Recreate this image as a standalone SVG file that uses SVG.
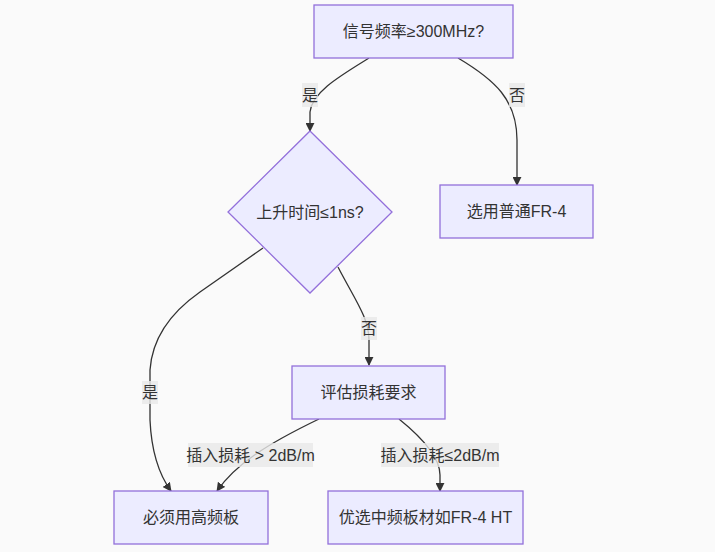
<svg xmlns="http://www.w3.org/2000/svg" width="715" height="552" viewBox="0 0 715 552">
<style>
.node rect,.node polygon{fill:#ECECFF;stroke:#9370DB;stroke-width:1.3}
text{font-family:"Liberation Sans","Noto Sans CJK SC",sans-serif;font-size:16px;fill:#333;text-anchor:middle;dominant-baseline:central}
.edge{fill:none;stroke:#333;stroke-width:1.3;marker-end:url(#arrow)}
.lbl rect{fill:#e8e8e8;fill-opacity:0.8}
</style>
<defs>
<marker id="arrow" viewBox="0 0 10 10" refX="9" refY="5" markerUnits="userSpaceOnUse" markerWidth="9" markerHeight="9" orient="auto">
<path d="M0,0 L10,5 L0,10 z" fill="#333"/>
</marker>
</defs>
<rect width="715" height="552" fill="#fafafa"/>
<g id="connectors">
<path class="edge" d="M369,58 C340,76 312,92 310,112 L310,131"/>
<path class="edge" d="M458,58 C495,80 517,100 517,140 L517,185"/>
<path class="edge" d="M263,248 L200,292 Q153,325 150,370 L150,420 Q152,465 171,491"/>
<path class="edge" d="M338,267 C355,300 369,318 369,340 L369,365"/>
<path class="edge" d="M319,419 C265,445 235,465 217,491"/>
<path class="edge" d="M399,419 C425,440 440,458 440,475 L440,491"/>
</g>
<g id="labels">
<g class="lbl"><rect x="302" y="83" width="16" height="24"/><text x="310" y="95">是</text></g>
<g class="lbl"><rect x="509" y="83" width="16" height="24"/><text x="517" y="95">否</text></g>
<g class="lbl"><rect x="142" y="381" width="16" height="23"/><text x="150" y="392">是</text></g>
<g class="lbl"><rect x="361" y="317" width="16" height="23"/><text x="369" y="328">否</text></g>
<g class="lbl"><rect x="188" y="443" width="125" height="24"/><text x="250.5" y="455">插入损耗 &gt; 2dB/m</text></g>
<g class="lbl"><rect x="381" y="443" width="118" height="24"/><text x="440" y="455">插入损耗≤2dB/m</text></g>
</g>
<g id="A" class="node"><rect x="314" y="5" width="199" height="53"/><text x="413.5" y="31.5">信号频率≥300MHz?</text></g>
<g id="B" class="node"><polygon points="310,131 392,212 310,293 228,212"/><text x="310" y="212">上升时间≤1ns?</text></g>
<g id="C" class="node"><rect x="440" y="185" width="153" height="53"/><text x="516.5" y="211.5">选用普通FR-4</text></g>
<g id="D" class="node"><rect x="292" y="366" width="153" height="53"/><text x="368.5" y="392.5">评估损耗要求</text></g>
<g id="E" class="node"><rect x="114" y="491" width="154" height="53"/><text x="191" y="517.5">必须用高频板</text></g>
<g id="F" class="node"><rect x="328" y="491" width="195" height="53"/><text x="425.5" y="517.5">优选中频板材如FR-4 HT</text></g>
</svg>
